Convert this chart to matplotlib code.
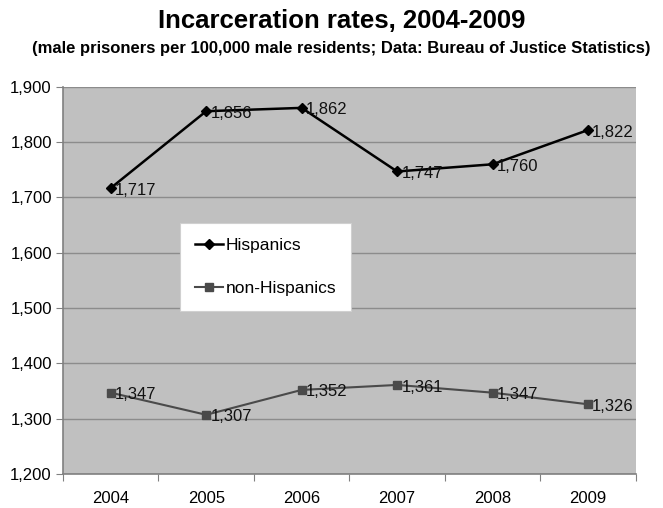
import numpy as np
import matplotlib
matplotlib.use("Agg")
import matplotlib.pyplot as plt
from matplotlib.ticker import FuncFormatter

plt.rcParams['font.family'] = ['Liberation Sans', 'DejaVu Sans']

# Data
years = ['2004', '2005', '2006', '2007', '2008', '2009']
hispanics = [1717, 1856, 1862, 1747, 1760, 1822]
non_hispanics = [1347, 1307, 1352, 1361, 1347, 1326]

fig = plt.figure(figsize=(6.63, 5.08), dpi=100)
ax = fig.add_axes([0.095, 0.067, 0.864, 0.762])

x = np.arange(len(years))
ax.set_facecolor('#c0c0c0')

ax.plot(x, hispanics, color='black', marker='D', markersize=5, lw=1.8,
        label='Hispanics', zorder=3)
ax.plot(x, non_hispanics, color='#4a4a4a', marker='s', markersize=6, lw=1.5,
        label='non-Hispanics', zorder=3)

for xi, v in zip(x, hispanics):
    ax.annotate(f'{v:,}', (xi, v), xytext=(3, -1.5), textcoords='offset points',
                ha='left', va='center', fontsize=12, color='#111111')
for xi, v in zip(x, non_hispanics):
    ax.annotate(f'{v:,}', (xi, v), xytext=(3, -1.5), textcoords='offset points',
                ha='left', va='center', fontsize=12, color='#111111')

ax.set_xlim(-0.5, len(years) - 0.5)
ax.set_ylim(1200, 1900)
ax.set_yticks(np.arange(1200, 1901, 100))
ax.yaxis.set_major_formatter(FuncFormatter(lambda v, p: f'{int(v):,}'))
ax.grid(axis='y', color='#8c8c8c', lw=1)
ax.set_axisbelow(True)

# category boundaries as ticks, labels centred on categories
ax.set_xticks(np.arange(-0.5, len(years), 1.0))
ax.set_xticklabels([])
ax.set_xticks(x, minor=True)
ax.set_xticklabels(years, minor=True)
ax.tick_params(axis='x', which='major', length=5, color='#808080')
ax.tick_params(axis='x', which='minor', length=0, pad=12, labelsize=12)
ax.tick_params(axis='y', length=5, color='#808080', labelsize=12, pad=3)

for s in ['top', 'right']:
    ax.spines[s].set_visible(False)
for s in ['left', 'bottom']:
    ax.spines[s].set_color('#808080')
    ax.spines[s].set_linewidth(1.2)

leg = ax.legend(loc='upper left', bbox_to_anchor=(0.204, 0.649), fontsize=12.5,
                frameon=True, fancybox=False, framealpha=1, edgecolor='#d0d0d0',
                labelspacing=1.64, handlelength=1.65, handletextpad=0.15,
                borderpad=0.85, borderaxespad=0)
leg.get_frame().set_linewidth(0.8)

fig.text(0.515, 0.958, 'Incarceration rates, 2004-2009', ha='center', va='center',
         fontsize=18.5, fontweight='bold')
fig.text(0.514, 0.905, '(male prisoners per 100,000 male residents; Data: Bureau of Justice Statistics)',
         ha='center', va='center', fontsize=12, fontweight='bold')

fig.savefig('out.png', dpi=100)
